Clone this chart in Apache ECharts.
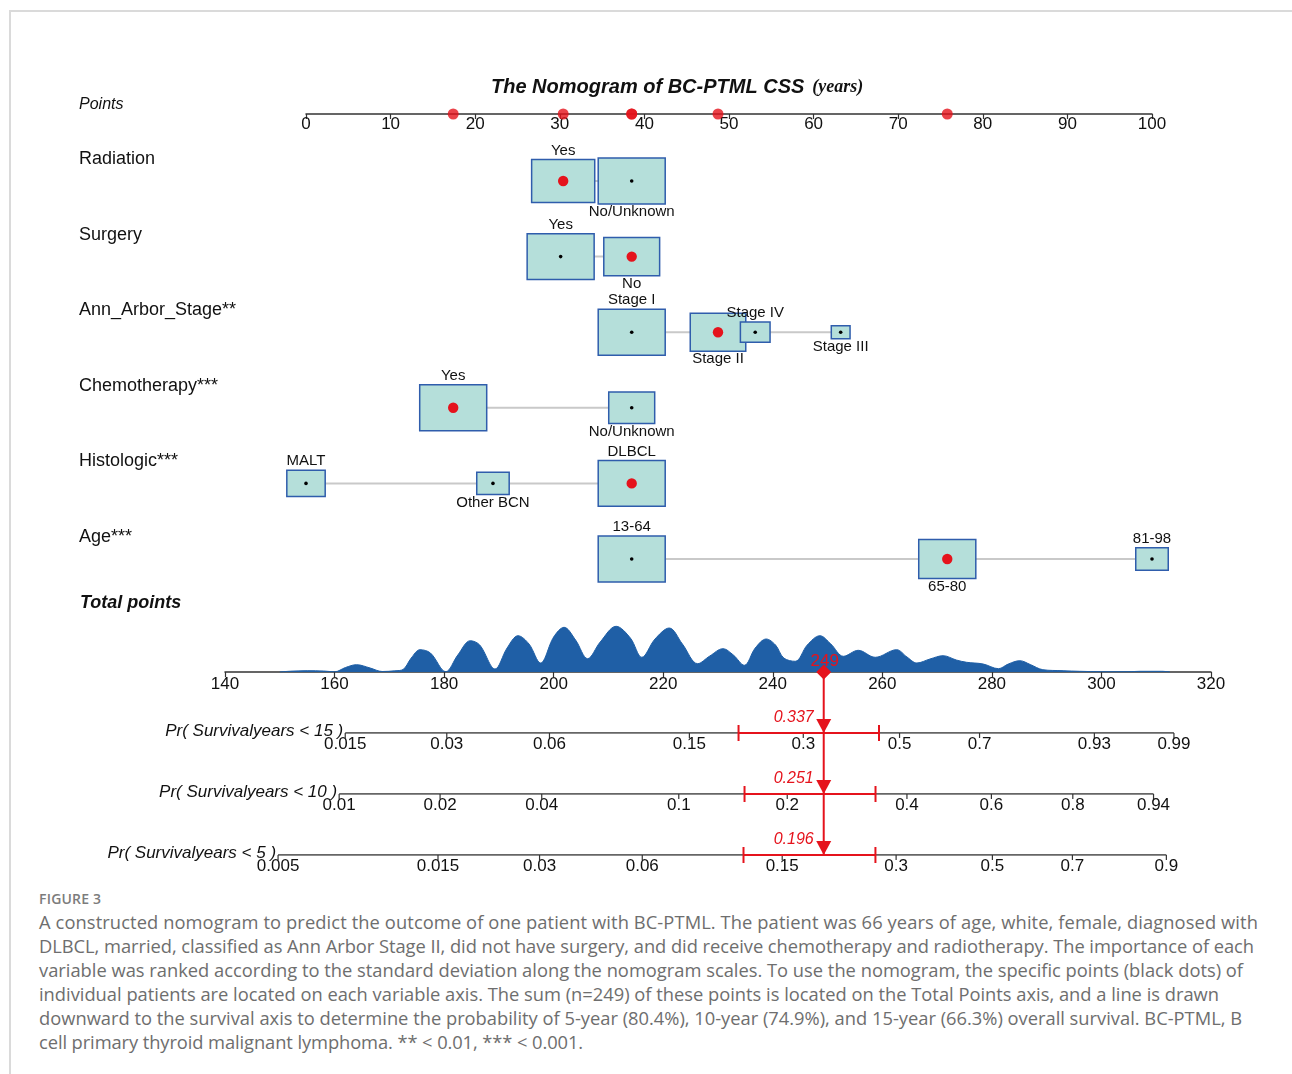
<!DOCTYPE html>
<html>
<head>
<meta charset="utf-8">
<script src="https://cdn.jsdelivr.net/npm/echarts@6/dist/echarts.min.js"></script>
<style>
html,body{margin:0;padding:0;background:#fff;width:1292px;height:1074px;overflow:hidden;position:relative}
#frame{position:absolute;left:9px;top:10px;width:1300px;height:1100px;border-top:2px solid #dadada;border-left:2px solid #dadada;box-sizing:border-box}
#chart{position:absolute;left:0;top:0;width:1292px;height:885px}
.cap{position:absolute;left:39px;white-space:nowrap;font-family:"Open Sans";color:#6e6e6e}
</style>
</head>
<body>
<div id="frame"></div>
<div id="chart"></div>
<script>
// ---------- data ----------
const variableNames = ['Radiation', 'Surgery', 'Ann_Arbor_Stage**', 'Chemotherapy***', 'Histologic***', 'Age***'];

const radiationLevels = ['Yes', 'No/Unknown'];
const radiationPoints = [30.4, 38.5];
const radiationShare  = [47, 53];

const surgeryLevels = ['Yes', 'No'];
const surgeryPoints = [30.1, 38.5];
const surgeryShare  = [59, 41];

const stageLevels = ['Stage I', 'Stage II', 'Stage III', 'Stage IV'];
const stagePoints = [38.5, 48.7, 63.2, 53.1];
const stageShare  = [51, 35, 4, 10];

const chemoLevels = ['Yes', 'No/Unknown'];
const chemoPoints = [17.4, 38.5];
const chemoShare  = [68, 32];

const histologicLevels = ['MALT', 'Other BCN', 'DLBCL'];
const histologicPoints = [0, 22.1, 38.5];
const histologicShare  = [21, 15, 64];

const ageLevels = ['13-64', '65-80', '81-98'];
const agePoints = [38.5, 75.8, 100];
const ageShare  = [51, 37, 12];

// the patient's levels, one per variable (same order as variableNames)
const patientLevels = ['Yes', 'No', 'Stage II', 'Yes', 'DLBCL', '65-80'];

// total-points density (total points, relative height)
const densityTotal  = [150,152,155,158,160,162,164,166.5,168.7,171,172.5,174,175.6,177.5,180.3,182.5,184.8,186.5,189.3,191.5,193.5,195.5,197.6,200,201.9,204,206.2,208.5,211.4,214,216.1,218.5,221.1,223.5,226.3,228.5,230.9,232.8,234.8,236.8,238.8,240.5,242,244.1,246.3,248.6,250.6,252.9,255.6,258.7,262.6,264.5,266.3,268.7,271.1,273.5,275.4,278.4,281.2,283,285.1,287,289.3,293,296,300,305,307,311,312.5];
const densityHeight = [0,0.8,1.3,1.0,0.2,4.5,7.3,4,0.5,1.2,2.5,14,22.3,19,0.3,17,31.3,27,3,24,36.3,28,9,35,44.7,32,13.3,30,45.7,34,14.7,33,44,28,8.3,16,23.3,17,6.7,24,33,27,14,10.7,27,36.3,28,15.7,21.7,14.7,22.3,15,9,13,16.3,12,9.7,8,3.3,8,11.3,7.5,2.3,1.3,0.7,0.3,0.3,0.7,0.7,0];

// probability scales
const horizonLabels = ['Pr( Survivalyears < 15 )', 'Pr( Survivalyears < 10 )', 'Pr( Survivalyears < 5 )'];
const pr15Ticks = [0.015, 0.03, 0.06, 0.15, 0.3, 0.5, 0.7, 0.93, 0.99];
const pr10Ticks = [0.01, 0.02, 0.04, 0.1, 0.2, 0.4, 0.6, 0.8, 0.94];
const pr5Ticks  = [0.005, 0.015, 0.03, 0.06, 0.15, 0.3, 0.5, 0.7, 0.9];
const patientProb = [0.337, 0.251, 0.196];
const probCiLow   = [0.204, 0.153, 0.117];
const probCiHigh  = [0.452, 0.337, 0.266];

// ---------- build ----------
const levelSets = [
  [radiationLevels, radiationPoints, radiationShare],
  [surgeryLevels, surgeryPoints, surgeryShare],
  [stageLevels, stagePoints, stageShare],
  [chemoLevels, chemoPoints, chemoShare],
  [histologicLevels, histologicPoints, histologicShare],
  [ageLevels, agePoints, ageShare]
];

const FONT = '"Liberation Sans", Arial, sans-serif';
const RED = '#e5131c';
const BOX_W = 67, BOX_RATIO = 1.46;

const boxItems = [];
const rowLines = [];
const patientPts = [];
levelSets.forEach(([lv, pts, share], row) => {
  const maxShare = Math.max(...share);
  const order = pts.map((p, i) => i).sort((a, b) => pts[a] - pts[b]);
  lv.forEach((name, i) => {
    const rank = order.indexOf(i);
    const sel = patientLevels[row] === name;
    if (sel) patientPts.push(pts[i]);
    boxItems.push([pts[i], row, share[i] / maxShare, sel ? 1 : 0, rank % 2 === 0 ? 1 : 0, name]);
  });
  rowLines.push([Math.min(...pts), Math.max(...pts), row]);
});
const patientTotal = patientPts.reduce((a, b) => a + b, 0);

// complementary log-log probability scale (axis unit)
const cll = p => Math.log(-Math.log(1 - p));
const probTicks = [pr15Ticks, pr10Ticks, pr5Ticks];
const probRanges = [[-5.022, 1.783], [-5.390, 1.432], [-5.662, 1.142]];

const chart = echarts.init(document.getElementById('chart'), null, { renderer: 'canvas' });

const axisStyle = {
  axisLine: { show: true, lineStyle: { color: '#333', width: 1.5 } },
  axisTick: { show: true, length: 5, lineStyle: { color: '#333', width: 1.2 } },
  axisLabel: { show: true, fontSize: 17, color: '#111', margin: 2, fontFamily: FONT },
  splitLine: { show: false }
};

const grids = [
  { left: 306, width: 846, top: 64, height: 50 },
  { left: 306, width: 846, top: 181, height: 378 },
  { left: 225, width: 986, top: 612, height: 60 },
  { left: 225, width: 986, top: 723, height: 10 },
  { left: 225, width: 986, top: 784, height: 10 },
  { left: 225, width: 986, top: 845, height: 10 },
  { left: 225, width: 986, top: 672, height: 183 }
].map(g => Object.assign({ containLabel: false, outerBoundsMode: 'none', show: false }, g));

const totalAxisStyle = JSON.parse(JSON.stringify(axisStyle));
totalAxisStyle.axisLabel.margin = 4;

const xAxes = [
  Object.assign({ gridIndex: 0, type: 'value', min: 0, max: 100, interval: 10 }, axisStyle),
  { gridIndex: 1, type: 'value', min: 0, max: 100, show: false },
  Object.assign({ gridIndex: 2, type: 'value', min: 140, max: 320, interval: 20 }, totalAxisStyle),
  { gridIndex: 3, type: 'value', min: probRanges[0][0], max: probRanges[0][1], show: false },
  { gridIndex: 4, type: 'value', min: probRanges[1][0], max: probRanges[1][1], show: false },
  { gridIndex: 5, type: 'value', min: probRanges[2][0], max: probRanges[2][1], show: false },
  { gridIndex: 6, type: 'value', min: 140, max: 320, show: false }
];
const yAxes = [
  { gridIndex: 0, type: 'value', min: 0, max: 1, show: false },
  { gridIndex: 1, type: 'value', min: 0, max: 5, inverse: true, show: false },
  { gridIndex: 2, type: 'value', min: 0, max: 60, show: false },
  { gridIndex: 3, type: 'value', min: 0, max: 1, show: false },
  { gridIndex: 4, type: 'value', min: 0, max: 1, show: false },
  { gridIndex: 5, type: 'value', min: 0, max: 1, show: false },
  { gridIndex: 6, type: 'value', min: 0, max: 3, inverse: true, show: false }
];

const series = [];

// red dots on the points axis
series.push({
  type: 'scatter', xAxisIndex: 0, yAxisIndex: 0, z: 10, silent: true,
  symbolSize: 11, itemStyle: { color: RED },
  data: patientPts.map(p => [p, 0])
});

// gray connecting lines
series.push({
  type: 'custom', xAxisIndex: 1, yAxisIndex: 1, z: 2, silent: true, clip: false,
  data: rowLines,
  renderItem: (params, api) => {
    const a = api.coord([api.value(0), api.value(2)]);
    const b = api.coord([api.value(1), api.value(2)]);
    return { type: 'line', shape: { x1: a[0], y1: a[1], x2: b[0], y2: b[1] }, style: { stroke: '#c9c9c9', lineWidth: 2 } };
  }
});

// boxes
series.push({
  type: 'custom', xAxisIndex: 1, yAxisIndex: 1, z: 3, silent: true, clip: false,
  data: boxItems,
  renderItem: (params, api) => {
    const it = boxItems[params.dataIndex];
    const c = api.coord([it[0], it[1]]);
    const w = BOX_W * Math.sqrt(it[2]), h = w / BOX_RATIO;
    const kids = [
      { type: 'rect', shape: { x: c[0] - w / 2, y: c[1] - h / 2, width: w, height: h },
        style: { fill: '#b5dfda', stroke: '#2f5dac', lineWidth: 1.5 } },
      it[3] ? { type: 'circle', shape: { cx: c[0], cy: c[1], r: 5.2 }, style: { fill: RED } }
            : { type: 'circle', shape: { cx: c[0], cy: c[1], r: 1.8 }, style: { fill: '#000' } },
      { type: 'text', x: c[0], y: it[4] ? c[1] - h / 2 - 9 : c[1] + h / 2 + 8,
        style: { text: it[5], align: 'center', verticalAlign: 'middle', font: '15px ' + FONT, fill: '#111' } }
    ];
    return { type: 'group', children: kids };
  }
});

// row labels
series.push({
  type: 'custom', xAxisIndex: 1, yAxisIndex: 1, z: 3, silent: true, clip: false,
  data: variableNames.map((n, i) => [0, i]),
  renderItem: (params, api) => {
    const c = api.coord([0, api.value(1)]);
    return { type: 'text', x: c[0] - 227, y: c[1] - 22,
      style: { text: variableNames[params.dataIndex], align: 'left', verticalAlign: 'middle', font: '18px ' + FONT, fill: '#111' } };
  }
});

// density of total points
series.push({
  type: 'line', xAxisIndex: 2, yAxisIndex: 2, z: 2, silent: true,
  smooth: 0.35, symbol: 'none',
  lineStyle: { width: 1, color: '#1f5fa6' },
  areaStyle: { color: '#1f5fa6', opacity: 1 },
  data: densityTotal.map((t, i) => [t, densityHeight[i]])
});

// probability axes
probTicks.forEach((ticks, k) => {
  const ax = 3 + k;
  series.push({
    type: 'line', xAxisIndex: ax, yAxisIndex: ax, z: 3, silent: true, symbol: 'none',
    lineStyle: { color: '#333', width: 1.5 },
    data: [[cll(ticks[0]), 0], [cll(ticks[ticks.length - 1]), 0]]
  });
  series.push({
    type: 'custom', xAxisIndex: ax, yAxisIndex: ax, z: 3, silent: true, clip: false,
    data: ticks.map(p => [cll(p), 0]),
    renderItem: (params, api) => {
      const c = api.coord([api.value(0), 0]);
      const kids = [
        { type: 'line', shape: { x1: c[0], y1: c[1], x2: c[0], y2: c[1] + 5 }, style: { stroke: '#333', lineWidth: 1.2 } },
        { type: 'text', x: c[0], y: c[1] + 3,
          style: { text: String(ticks[params.dataIndex]), align: 'center', verticalAlign: 'top', font: '17px ' + FONT, fill: '#111' } }
      ];
      if (params.dataIndex === 0) {
        kids.push({ type: 'text', x: c[0] - 2, y: c[1] - 2,
          style: { text: horizonLabels[k], align: 'right', verticalAlign: 'middle', font: 'italic 17px ' + FONT, fill: '#111' } });
      }
      return { type: 'group', children: kids };
    }
  });
  // confidence bracket
  series.push({
    type: 'custom', xAxisIndex: ax, yAxisIndex: ax, z: 8, silent: true, clip: false,
    data: [[cll(probCiLow[k]), cll(probCiHigh[k])]],
    renderItem: (params, api) => {
      const a = api.coord([api.value(0), 0]);
      const b = api.coord([api.value(1), 0]);
      const st = { stroke: RED, lineWidth: 2 };
      return { type: 'group', children: [
        { type: 'line', shape: { x1: a[0], y1: a[1], x2: b[0], y2: b[1] }, style: st },
        { type: 'line', shape: { x1: a[0], y1: a[1] - 8, x2: a[0], y2: a[1] + 8 }, style: st },
        { type: 'line', shape: { x1: b[0], y1: b[1] - 8, x2: b[0], y2: b[1] + 8 }, style: st }
      ] };
    }
  });
});

// red patient line, arrows and values
series.push({
  type: 'custom', xAxisIndex: 6, yAxisIndex: 6, z: 12, silent: true, clip: false,
  data: [[patientTotal, 0]],
  renderItem: (params, api) => {
    const t = api.value(0);
    const top = api.coord([t, 0]);
    const bot = api.coord([t, 3]);
    const kids = [
      { type: 'line', shape: { x1: top[0], y1: top[1], x2: bot[0], y2: bot[1] }, style: { stroke: RED, lineWidth: 2 } },
      { type: 'polygon', shape: { points: [[top[0], top[1] - 7.5], [top[0] + 7.5, top[1]], [top[0], top[1] + 7.5], [top[0] - 7.5, top[1]]] }, style: { fill: RED } },
      { type: 'text', x: top[0] + 1, y: top[1] - 11,
        style: { text: String(Math.round(t)), align: 'center', verticalAlign: 'middle', font: '17px ' + FONT, fill: RED } }
    ];
    [1, 2, 3].forEach(r => {
      const c = api.coord([t, r]);
      kids.push({ type: 'polygon', shape: { points: [[c[0] - 7.5, c[1] - 14], [c[0] + 7.5, c[1] - 14], [c[0], c[1]]] }, style: { fill: RED } });
      kids.push({ type: 'text', x: c[0] - 10, y: c[1] - 15,
        style: { text: patientProb[r - 1].toFixed(3), align: 'right', verticalAlign: 'middle', font: 'italic 16px ' + FONT, fill: RED } });
    });
    return { type: 'group', children: kids };
  }
});

chart.setOption({
  animation: false,
  title: {
    left: 486, top: 72,
    text: '{a|The Nomogram of BC-PTML CSS}{b|(years)}',
    textStyle: {
      rich: {
        a: { fontFamily: FONT, fontWeight: 'bold', fontStyle: 'italic', fontSize: 20, color: '#111' },
        b: { fontFamily: '"Liberation Serif", "DejaVu Serif", serif', fontStyle: 'italic', fontSize: 18, color: '#111', padding: [0, 0, 0, 8] }
      }
    }
  },
  graphic: [
    { type: 'text', left: 79, top: 97, style: { text: 'Points', font: 'italic 16px ' + FONT, fill: '#111' } },
    { type: 'text', left: 80, top: 594, style: { text: 'Total points', font: 'italic bold 18px ' + FONT, fill: '#111' } }
  ],
  grid: grids,
  xAxis: xAxes,
  yAxis: yAxes,
  series: series
});

// ---------- caption ----------
const captionTitle = 'FIGURE 3';
const captionLines = [
  'A constructed nomogram to predict the outcome of one patient with BC-PTML. The patient was 66 years of age, white, female, diagnosed with',
  'DLBCL, married, classified as Ann Arbor Stage II, did not have surgery, and did receive chemotherapy and radiotherapy. The importance of each',
  'variable was ranked according to the standard deviation along the nomogram scales. To use the nomogram, the specific points (black dots) of',
  'individual patients are located on each variable axis. The sum (n=249) of these points is located on the Total Points axis, and a line is drawn',
  'downward to the survival axis to determine the probability of 5-year (80.4%), 10-year (74.9%), and 15-year (66.3%) overall survival. BC-PTML, B',
  'cell primary thyroid malignant lymphoma. ** < 0.01, *** < 0.001.'
];
// rendered widths of each caption line in the reference (for letter fitting)
const captionWidths = [1219, 1215, 1204, 1180, 1203, 544];
const ctx = document.createElement('canvas').getContext('2d');
const baseFs = 17;
ctx.font = baseFs + 'px "Open Sans"';
const avgScale = captionWidths.slice(0, 5).reduce((s, w, i) => s + w / ctx.measureText(captionLines[i]).width, 0) / 5;
const fs = baseFs * avgScale;
ctx.font = fs + 'px "Open Sans"';
const ft = document.createElement('div');
ft.className = 'cap';
ft.textContent = captionTitle;
ft.style.cssText += 'top:889px;font-size:14px;font-weight:600;color:#7c7c7c;line-height:20px;letter-spacing:0.2px';
document.body.appendChild(ft);
captionLines.forEach((t, i) => {
  const d = document.createElement('div');
  d.className = 'cap';
  d.textContent = t;
  d.style.top = (922 + 24 * i - 12) + 'px';
  d.style.lineHeight = '24px';
  d.style.fontSize = fs + 'px';
  const w = ctx.measureText(t).width;
  d.style.letterSpacing = ((captionWidths[i] - w) / t.length) + 'px';
  document.body.appendChild(d);
});
</script>
</body>
</html>
